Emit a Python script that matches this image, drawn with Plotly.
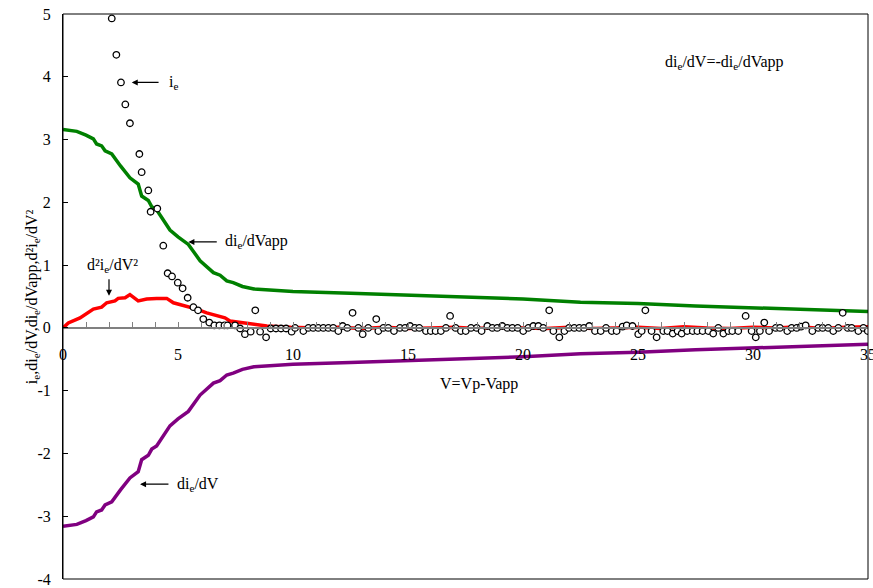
import plotly.graph_objects as go

# Electron current i_e (open circles)
ie_v = [2.12, 2.32, 2.52, 2.71, 2.91, 3.32, 3.42, 3.71, 3.81, 4.10, 4.36, 4.55, 4.74, 4.99,
        5.20, 5.42, 5.67, 5.87, 6.10, 6.36, 6.58, 6.80, 7.02, 7.15, 7.48, 7.70, 7.91, 8.16,
        8.36, 8.57, 8.83, 9.03, 9.26, 9.48, 9.70, 9.94, 10.09, 10.45, 10.67, 10.88, 11.10,
        11.32, 11.54, 11.75, 11.97, 12.16, 12.36, 12.59, 12.84, 13.03, 13.27, 13.62, 13.71,
        13.93, 14.14, 14.39, 14.65, 14.87, 15.09, 15.30, 15.49, 15.78, 15.99, 16.20, 16.43,
        16.65, 16.83, 17.07, 17.30, 17.51, 17.74, 17.99, 18.20, 18.45, 18.67, 18.88, 19.10,
        19.32, 19.54, 19.77, 20.01, 20.23, 20.45, 20.67, 20.88, 21.14, 21.32, 21.58, 21.80,
        22.00, 22.23, 22.45, 22.65, 22.88, 23.13, 23.38, 23.61, 23.86, 24.07, 24.33, 24.51,
        24.76, 25.01, 25.16, 25.32, 25.59, 25.81, 26.10, 26.28, 26.51, 26.72, 26.90, 27.14,
        27.38, 27.58, 27.81, 28.06, 28.27, 28.49, 28.71, 28.93, 29.10, 29.36, 29.68, 29.94,
        30.12, 30.30, 30.49, 30.70, 30.99, 31.17, 31.49, 31.68, 31.90, 32.09, 32.29, 32.58,
        32.84, 33.03, 33.27, 33.49, 33.71, 33.90, 34.12, 34.29, 34.58, 34.80, 34.99]
ie_val = [4.93, 4.35, 3.91, 3.56, 3.26, 2.77, 2.48, 2.19, 1.85, 1.90, 1.31, 0.87, 0.82, 0.72,
          0.63, 0.48, 0.33, 0.28, 0.14, 0.085, 0.04, 0.04, 0.04, 0.04, 0.04, -0.01, -0.10, -0.06,
          0.28, -0.06, -0.15, -0.01, -0.01, -0.01, -0.01, -0.06, 0.0, -0.05, 0.0, 0.0, 0.0,
          0.0, 0.0, 0.0, -0.05, 0.03, 0.0, 0.24, 0.0, -0.10, 0.0, 0.14, -0.05,
          0.0, 0.0, -0.05, 0.0, 0.0, 0.03, 0.0, 0.0, -0.05, -0.05, -0.05, -0.05,
          0.0, 0.19, 0.0, -0.05, -0.05, 0.0, 0.0, -0.05, 0.03, 0.0, 0.0, 0.03,
          0.0, 0.0, 0.0, -0.05, 0.0, 0.03, 0.03, 0.0, 0.28, -0.05, -0.15, -0.05,
          0.0, 0.0, 0.0, 0.0, 0.03, -0.05, -0.05, 0.0, -0.05, -0.05, 0.02, 0.04,
          0.03, -0.10, -0.05, 0.28, -0.05, -0.15, -0.05, -0.05, -0.09, -0.05, -0.09, -0.05,
          -0.05, -0.05, -0.05, -0.05, -0.09, 0.0, -0.09, -0.05, -0.05, -0.05, 0.19, -0.05,
          -0.15, -0.05, 0.085, -0.05, 0.0, 0.0, -0.05, 0.0, 0.0, 0.02, 0.04, -0.05,
          0.0, 0.0, 0.0, -0.05, 0.0, 0.24, 0.0, 0.0, -0.05, 0.0, -0.05]

# Derivatives of i_e with respect to V and Vapp
d_v = [0.0, 0.3, 0.6, 1.0, 1.32, 1.46, 1.68, 1.83, 2.12, 2.5, 2.91, 3.27, 3.42, 3.71, 3.86,
       4.07, 4.65, 5.0, 5.45, 5.96, 6.54, 6.83, 7.12, 7.4, 7.8, 8.3, 9.0, 10.0, 12.5, 15.0,
       17.5, 20.0, 22.5, 25.0, 27.5, 30.0, 32.5, 35.0]
die_dvapp = [3.16, 3.15, 3.13, 3.07, 3.01, 2.93, 2.90, 2.82, 2.77, 2.58, 2.39, 2.29, 2.10, 2.03,
             1.93, 1.88, 1.56, 1.45, 1.33, 1.07, 0.88, 0.84, 0.75, 0.72, 0.66, 0.62, 0.60, 0.58,
             0.55, 0.52, 0.50, 0.46, 0.41, 0.39, 0.35, 0.32, 0.29, 0.26]
die_dv = [-3.16, -3.15, -3.13, -3.07, -3.01, -2.93, -2.90, -2.82, -2.77, -2.58, -2.39, -2.29,
          -2.10, -2.03, -1.93, -1.88, -1.56, -1.45, -1.33, -1.07, -0.88, -0.84, -0.75, -0.72,
          -0.66, -0.62, -0.60, -0.58, -0.55, -0.52, -0.50, -0.46, -0.41, -0.39, -0.35, -0.32,
          -0.29, -0.26]

# Second derivative d2i_e/dV2
d2_v = [0.0, 0.23, 0.74, 1.32, 1.68, 1.90, 2.26, 2.40, 2.70, 2.91, 3.27, 3.64, 4.07, 4.51,
        4.80, 5.38, 5.81, 6.25, 6.68, 7.04, 7.26, 7.84, 8.42, 8.86, 9.90, 11, 12, 13, 14, 15,
        16, 17, 18, 19, 20, 21, 22, 23, 24, 25, 26, 27, 28, 29, 30, 31, 32, 33, 34, 35]
d2_val = [0.0, 0.08, 0.16, 0.30, 0.33, 0.40, 0.43, 0.47, 0.48, 0.53, 0.43, 0.46, 0.47, 0.47,
          0.40, 0.35, 0.30, 0.24, 0.19, 0.16, 0.11, 0.08, 0.06, 0.03, 0.01, 0.0, 0.01, -0.01,
          0.01, -0.01, 0.0, 0.01, -0.01, 0.01, 0.0, -0.01, 0.01, -0.01, 0.0, 0.01, -0.01, 0.02,
          0.0, -0.01, 0.01, 0.0, 0.02, -0.01, 0.01, 0.02]

x_ticks = [0, 5, 10, 15, 20, 25, 30, 35]
x_ticktext = ["0", "5", "10", "15", "20", "25", "30", "35"]
y_ticks = [-4, -3, -2, -1, 0, 1, 2, 3, 4, 5]
y_ticktext = ["-4", "-3", "-2", "-1", "0", "1", "2", "3", "4", "5"]

FONT = "Liberation Serif"

fig = go.Figure()
fig.add_trace(go.Scatter(x=d_v, y=die_dvapp, mode="lines",
                         line=dict(color="#008000", width=3.5), name="die/dVapp"))
fig.add_trace(go.Scatter(x=d_v, y=die_dv, mode="lines",
                         line=dict(color="#800080", width=3.5), name="die/dV"))
fig.add_trace(go.Scatter(x=d2_v, y=d2_val, mode="lines",
                         line=dict(color="#ff0000", width=3.5), name="d2ie/dV2"))
fig.add_trace(go.Scatter(x=ie_v, y=ie_val, mode="markers",
                         marker=dict(symbol="circle", size=6.5, color="white",
                                     line=dict(color="black", width=1.3)),
                         name="ie"))

fig.update_layout(
    width=873, height=588,
    margin=dict(l=63, r=5, t=14, b=9, autoexpand=False),
    plot_bgcolor="white", paper_bgcolor="white",
    showlegend=False,
    font=dict(family=FONT, size=16, color="black"),
    xaxis=dict(range=[0, 35], tickvals=x_ticks, ticktext=x_ticktext, ticks="inside",
               ticklen=5, tickcolor="#808080", showline=True, linecolor="#808080",
               linewidth=1.5,
               minor=dict(dtick=1, ticks="inside", ticklen=5, tickcolor="#808080"),
               showgrid=False, zeroline=False, anchor="free", position=4 / 9,
               ticklabelstandoff=12, ticklabeloverflow="allow", automargin=False,
               tickfont=dict(family=FONT, size=16)),
    yaxis=dict(range=[-4, 5], tickvals=y_ticks, ticktext=y_ticktext, ticks="inside",
               ticklen=5, tickcolor="black", showline=True, linecolor="black", linewidth=1,
               showgrid=False, zeroline=False, ticklabelstandoff=8, automargin=False,
               tickfont=dict(family=FONT, size=16)),
)

# frame around the plotting area
fig.add_shape(type="rect", xref="paper", yref="paper", x0=0, x1=1, y0=0, y1=1,
              line=dict(color="black", width=1))

arrow = dict(showarrow=True, arrowhead=2, arrowsize=1, arrowwidth=1.2, arrowcolor="black",
             axref="x", ayref="y", text="")
fig.add_annotation(x=2.99, y=3.91, ax=4.22, ay=3.91, **arrow)
fig.add_annotation(x=5.45, y=1.37, ax=6.75, ay=1.37, **arrow)
fig.add_annotation(x=2.0, y=0.51, ax=2.0, ay=0.80, **arrow)
fig.add_annotation(x=3.35, y=-2.49, ax=4.65, ay=-2.49, **arrow)

labels = [
    (4.52, 3.91, "i<sub>e</sub>", "left"),
    (6.94, 1.37, "di<sub>e</sub>/dVapp", "left"),
    (2.17, 1.0, "d²i<sub>e</sub>/dV²", "center"),
    (4.87, -2.49, "di<sub>e</sub>/dV", "left"),
    (28.78, 4.22, "di<sub>e</sub>/dV=-di<sub>e</sub>/dVapp", "center"),
    (18.09, -0.89, "V=Vp-Vapp", "center"),
]
for lx, ly, txt, anchor in labels:
    fig.add_annotation(x=lx, y=ly, text=txt, showarrow=False, xanchor=anchor,
                       font=dict(family=FONT, size=16, color="black"))

fig.add_annotation(xref="paper", yref="paper", x=-0.052, y=0.5, textangle=-90,
                   text="i<sub>e</sub>,di<sub>e</sub>/dV,di<sub>e</sub>/dVapp,d²i<sub>e</sub>/dV²",
                   showarrow=False, font=dict(family=FONT, size=16, color="black"))

fig.write_html("out.html")
